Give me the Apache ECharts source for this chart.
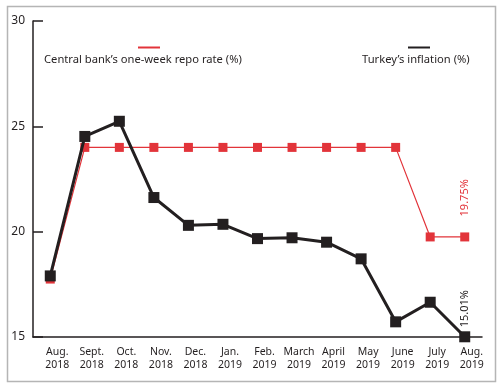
<!DOCTYPE html>
<html><head><meta charset="utf-8">
<script src="https://cdn.jsdelivr.net/npm/echarts@6/dist/echarts.min.js"></script>
<style>html,body{margin:0;padding:0;background:#fff}#c{width:500px;height:388px}</style>
</head><body><div id="c"></div>
<script>
const categories = ['Aug.\n2018','Sept.\n2018','Oct.\n2018','Nov.\n2018','Dec.\n2018','Jan.\n2019','Feb.\n2019','March\n2019','April\n2019','May\n2019','June\n2019','July\n2019','Aug.\n2019'];
const repoRate = [17.75,24,24,24,24,24,24,24,24,24,24,19.75,19.75];
const inflation = [17.90,24.52,25.24,21.62,20.30,20.35,19.67,19.71,19.50,18.71,15.72,16.65,15.01];
const yTicks = [15,20,25,30];
const repoName = "Central bank\u2019s one-week repo rate (%)";
const inflName = "Turkey\u2019s inflation (%)";

const FONT = 'Noto Sans';
const RED = '#e2343a';
const BLK = '#231f20';

function withLastLabel(arr, color, dist) {
  return arr.map((v, i) => i === arr.length - 1 ? {
    value: v,
    label: { show: true, formatter: v.toFixed(2) + '%', position: 'top', rotate: 90,
      align: 'left', verticalAlign: 'middle', distance: dist, color: color,
      fontFamily: FONT, fontSize: 11 }
  } : v);
}

const chart = echarts.init(document.getElementById('c'), null, {renderer: 'canvas'});
chart.setOption({
  animation: false,
  backgroundColor: '#fff',
  grid: { left: 33, right: 18, top: 21, bottom: 51, containLabel: false },
  xAxis: {
    type: 'category', data: categories, boundaryGap: true,
    axisLine: { lineStyle: { color: BLK, width: 1.5 } },
    axisTick: { inside: true, length: 7, lineStyle: { color: BLK, width: 1 } },
    axisLabel: { color: BLK, fontFamily: FONT, fontSize: 10.5, lineHeight: 13, margin: 9, interval: 0,
      padding: [0, 0, 0, 14] },
    splitLine: { show: false }
  },
  yAxis: {
    type: 'value', min: 15, max: 30, interval: 5,
    axisLine: { show: true, lineStyle: { color: BLK, width: 1.5 } },
    axisTick: { show: true, inside: true, length: 10, lineStyle: { color: BLK, width: 1.5 } },
    axisLabel: { color: BLK, fontFamily: FONT, fontSize: 12, margin: 8,
      formatter: v => yTicks.includes(v) ? String(v) : '' },
    splitLine: { show: false }
  },
  graphic: [
    { type: 'rect', shape: { x: 7.5, y: 6.5, width: 488, height: 375 }, style: { fill: 'none', stroke: '#b5b5b5', lineWidth: 1.5 }, silent: true },
    { type: 'line', shape: { x1: 138, y1: 47.5, x2: 160, y2: 47.5 }, style: { stroke: RED, lineWidth: 2 } },
    { type: 'text', left: 44, top: 54, style: { text: repoName, fill: BLK, font: '11.2px "' + FONT + '"' } },
    { type: 'line', shape: { x1: 408, y1: 47.5, x2: 430, y2: 47.5 }, style: { stroke: BLK, lineWidth: 2 } },
    { type: 'text', left: 362, top: 54, style: { text: inflName, fill: BLK, font: '11.2px "' + FONT + '"' } }
  ],
  series: [
    { name: repoName, type: 'line', data: withLastLabel(repoRate, RED, 16),
      symbol: 'rect', symbolSize: 9, itemStyle: { color: RED },
      lineStyle: { color: RED, width: 1.2 }, z: 2 },
    { name: inflName, type: 'line', data: withLastLabel(inflation, BLK, 4),
      symbol: 'rect', symbolSize: 11, itemStyle: { color: BLK },
      lineStyle: { color: BLK, width: 3 }, z: 3 }
  ]
});
</script></body></html>
